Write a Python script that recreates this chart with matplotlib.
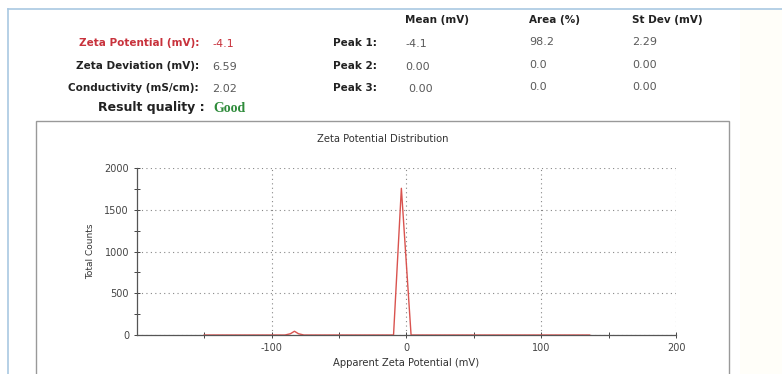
import matplotlib
matplotlib.use("Agg")
import matplotlib.pyplot as plt
from matplotlib.patches import Rectangle
from matplotlib.lines import Line2D

# summary values
summary_labels = ["Zeta Potential (mV):", "Zeta Deviation (mV):", "Conductivity (mS/cm):", "Result quality :"]
summary_values = ["-4.1", "6.59", "2.02", "Good"]

peak_names = ["Peak 1:", "Peak 2:", "Peak 3:"]
peak_cols = ["Mean (mV)", "Area (%)", "St Dev (mV)"]
peak_mean = ["-4.1", "0.00", "0.00"]
peak_area = ["98.2", "0.0", "0.0"]
peak_stdev = ["2.29", "0.00", "0.00"]

# distribution curve
zeta_mv = [-150, -90, -86, -83, -80, -76, -12, -9.5, -3.7, 3.5, 136]
counts = [0, 0, 15, 45, 15, 0, 0, 0, 1760, 0, 0]

W, H = 782, 374
plt.rcParams['font.family'] = ['DejaVu Sans']
fig = plt.figure(figsize=(W / 100, H / 100), dpi=100)

def fx(px):
    return px / W

def fy(py):
    return 1 - py / H

# outer frame lines
fig.add_artist(Rectangle((fx(740), 0), 1 - fx(740), fy(10), transform=fig.transFigure,
                         facecolor="#fffef9", edgecolor="none"))
fig.add_artist(Line2D([fx(8), fx(8)], [fy(9), 0], color="#a9c8e2", lw=1.2))
fig.add_artist(Line2D([fx(8), 1], [fy(9), fy(9)], color="#a9c8e2", lw=1.2))
# inner chart box
fig.add_artist(Rectangle((fx(36), -0.01), fx(729) - fx(36), fy(121) + 0.01, transform=fig.transFigure,
                         facecolor="none", edgecolor="#999999", lw=1.0))

# summary block
rows_y = [43, 66, 88, 108]
for i, (lab, val) in enumerate(zip(summary_labels, summary_values)):
    y = rows_y[i]
    lab_color = "#c8323c" if i == 0 else "#222222"
    val_color = "#c8323c" if i == 0 else "#5a5a5a"
    xr = 205 if i == 3 else 199
    fs = 9 if i == 3 else 7.5
    fig.text(fx(xr), fy(y), lab, ha="right", va="center", fontsize=fs, fontweight="bold", color=lab_color)
    if i == 3:
        fig.text(fx(213), fy(y), val, ha="left", va="center", fontsize=10, color="#2e8b3a",
                 family="Liberation Serif", fontweight="bold")
    else:
        fig.text(fx(212), fy(y + 1), val, ha="left", va="center", fontsize=8, color=val_color)

# peak table
col_x = [405, 529, 632]
for cx, name in zip(col_x, peak_cols):
    fig.text(fx(cx), fy(20), name, ha="left", va="center", fontsize=7.5, fontweight="bold", color="#222222")
for i in range(3):
    y = rows_y[i]
    fig.text(fx(333), fy(y), peak_names[i], ha="left", va="center", fontsize=7.5, fontweight="bold", color="#222222")
    fig.text(fx(col_x[0] + (3 if i == 2 else 0)), fy(y + 1), peak_mean[i], ha="left", va="center", fontsize=8, color="#5a5a5a")
    fig.text(fx(col_x[1]), fy(y - 1), peak_area[i], ha="left", va="center", fontsize=8, color="#5a5a5a")
    fig.text(fx(col_x[2]), fy(y - 1), peak_stdev[i], ha="left", va="center", fontsize=8, color="#5a5a5a")

# chart
ax = fig.add_axes([fx(136.7), 1 - 335 / H, fx(676) - fx(136.7), (335 - 168.3) / H])
ax.plot(zeta_mv, counts, color="#d9534f", lw=1.0)
ax.set_xlim(-200, 200)
ax.set_ylim(0, 2000)
ax.set_xticks([-100, 0, 100, 200])
ax.set_xticklabels(["-100", "0", "100", "200"])
ax.set_xticks([-150, -50, 50, 150], minor=True)
ax.set_yticks([0, 500, 1000, 1500, 2000])
ax.set_yticks([250, 750, 1250, 1750], minor=True)
ax.tick_params(which="both", direction="inout", length=4, width=0.7, colors="#444444", labelsize=7, labelcolor="#444444")
ax.xaxis.set_tick_params(pad=4)
ax.grid(True, which="major", linestyle=(0, (1, 3)), color="#888888", lw=0.8)
for s in ["top", "right"]:
    ax.spines[s].set_visible(False)
for s in ["left", "bottom"]:
    ax.spines[s].set_color("#555555")
    ax.spines[s].set_linewidth(0.9)
ax.set_ylabel("Total Counts", fontsize=6.5, color="#333333", labelpad=7)
ax.set_xlabel("Apparent Zeta Potential (mV)", fontsize=7.2, color="#333333", labelpad=3)
fig.text(fx(383), fy(139), "Zeta Potential Distribution", ha="center", va="center", fontsize=7.2, color="#333333")

fig.savefig("out.png", dpi=100)
